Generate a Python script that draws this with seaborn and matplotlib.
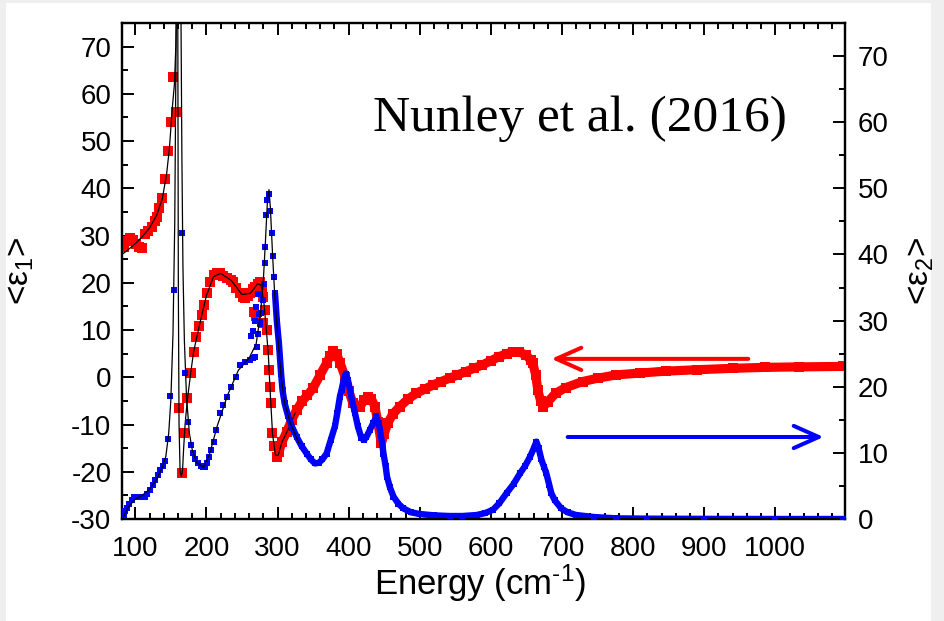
import matplotlib
matplotlib.use("Agg")
import matplotlib.pyplot as plt
from matplotlib.patches import Rectangle
from matplotlib.ticker import MultipleLocator
import pandas as pd
import seaborn as sns

# <eps1> data (left axis), energy in cm^-1
e1_energy = [84, 88, 93, 97, 101, 105, 109, 113, 118, 123, 127, 130, 134, 138, 142,
             146, 150, 153, 157, 160.8, 165.5, 168.8, 173.4, 178.6, 182, 186, 190,
             193.6, 197.3, 201.5, 205.3, 210, 214.6, 219, 224, 229, 234, 238, 242,
             247, 251, 254, 258, 261.4, 265, 268.4, 272, 275.4, 278, 280, 282.5,
             284.8, 287, 288.5, 289.5, 290.5, 292, 295, 299, 302, 306, 313, 320, 327,
             335, 342, 350, 360, 369, 374, 378, 383, 388, 395, 400, 406, 411, 416,
             422, 427.5, 432, 437, 441, 446, 450, 455, 462, 472, 483, 495, 507, 519,
             530, 542, 553, 565, 576, 588, 600, 612, 622, 631, 640, 650, 656, 659,
             663, 666, 670, 674, 680, 691, 705, 729, 750, 776, 810, 846, 890, 940,
             985, 1033, 1095]
e1_value = [27.6, 28.8, 29.4, 29.0, 28.3, 27.6, 27.3, 30.4, 31.0, 31.9, 33.0, 34.0,
            35.8, 38.0, 41.9, 48.0, 54.0, 63.6, 56.2, -6.4, -20.3, -11.7, -4.4, 1.0,
            5.4, 8.5, 10.9, 13.2, 15.3, 17.8, 20.2, 21.6, 22.1, 22.0, 21.5, 21.0,
            20.6, 20.2, 19.0, 17.8, 17.0, 16.7, 17.2, 17.8, 18.6, 19.2, 19.8, 20.2,
            19.0, 17.0, 14.2, 10.0, 5.8, 1.5, -2.0, -5.5, -11.9, -14.5, -16.8, -15.8,
            -13.8, -11.5, -9.0, -6.9, -5.0, -3.8, -2.3, 0.5, 3.0, 4.5, 5.6, 5.0, 3.0,
            0.1, -2.8, -5.5, -6.3, -6.2, -4.8, -4.1, -4.6, -6.2, -9.5, -14.0, -12.0,
            -9.7, -7.8, -6.2, -4.7, -3.4, -2.5, -1.6, -0.9, -0.2, 0.5, 1.2, 1.9, 2.6,
            3.5, 4.4, 5.0, 5.4, 5.3, 4.7, 3.6, 3.0, 0.5, -2.7, -5.0, -6.2, -5.2,
            -3.4, -2.2, -0.9, -0.2, 0.5, 0.9, 1.3, 1.6, 1.9, 2.1, 2.2, 2.3]
# scattered <eps1> points near the 280 cm^-1 mode
e1_extra_energy = [267, 270, 279]
e1_extra_value = [13.8, 13.0, 11.5]

# <eps2> data (right axis)
e2_energy = [83.6, 86, 88, 91, 95, 98, 102, 106, 110, 114, 117, 121, 125, 128, 132,
             135, 139, 142, 145.4, 149, 154, 166, 170, 174, 178, 181, 184, 188, 192,
             195, 198, 201, 203, 206, 210, 214, 219, 224, 229, 235, 241, 247, 254,
             261, 266, 268, 271, 273, 275, 277.4, 279, 281, 282.5, 283, 284, 285, 288,
             290, 292, 293, 295.5, 296.5, 299, 302, 305, 307, 310, 315, 321, 327, 334,
             341, 347, 352.6, 358, 363, 369, 375, 380.7, 384, 387.7, 390, 393, 396,
             399, 402, 405, 409, 413, 418, 422, 425, 430, 434.6, 439, 442, 444, 447,
             449, 452, 454, 458, 463, 470, 477, 488, 500, 520, 542, 560, 580, 592,
             603, 612, 622, 632, 641, 648, 655, 660, 664, 667, 671, 675, 678, 682,
             685, 690, 699, 708, 720, 745, 776, 820, 900, 1000, 1095]
e2_value = [0.6, 1.2, 1.6, 2.3, 2.9, 3.3, 3.4, 3.4, 3.4, 3.4, 3.8, 4.4, 5.1, 5.9, 6.7,
            7.4, 8.0, 8.7, 12.1, 18.6, 34.7, 43.3, 22.1, 14.7, 11.2, 10.0, 9.0, 8.4,
            8.0, 7.8, 7.8, 8.5, 9.4, 10.4, 11.7, 13.5, 16.0, 17.3, 18.5, 20.0, 21.5,
            23.3, 23.7, 24.0, 24.3, 24.5, 26.0, 28.0, 29.8, 31.1, 33.1, 35.6, 38.7,
            41.2, 46.0, 48.2, 49.2, 46.5, 43.2, 39.7, 36.6, 34.1, 30.0, 26.5, 22.0,
            19.5, 17.5, 15.5, 13.8, 12.4, 11.0, 9.9, 9.0, 8.4, 8.5, 9.0, 9.9, 12.0,
            14.0, 16.0, 18.5, 19.5, 21.0, 22.0, 21.0, 19.5, 17.8, 16.0, 14.0, 12.2,
            12.0, 12.4, 13.5, 14.5, 15.5, 14.5, 13.5, 11.5, 9.9, 8.0, 6.4, 4.8, 3.4,
            2.3, 1.6, 1.0, 0.76, 0.55, 0.45, 0.45, 0.6, 0.9, 1.4, 2.4, 3.9, 5.3, 6.9,
            8.0, 9.4, 10.6, 11.7, 10.8, 9.0, 7.8, 6.9, 5.2, 3.9, 2.8, 1.6, 1.0, 0.6,
            0.3, 0.1, 0.05, 0.02, 0.0, 0.0]
# scattered <eps2> points near the 280 cm^-1 mode
e2_extra_energy = [262, 265, 268, 270, 272, 274, 276]
e2_extra_value = [27.7, 28.5, 30.0, 32.0, 34.0, 31.0, 29.5]

# oscillator-model fits
fit1_energy = [83, 90, 100, 110, 120, 130, 138, 144, 148, 152, 155, 157, 158.5, 159.5,
               160.5, 161.5, 163, 165, 166.5, 168, 170, 173, 178, 182, 190, 200, 210,
               220, 235, 250, 262, 272, 277, 281, 284, 287, 290, 293, 297, 301, 306,
               315, 325]
fit1_value = [26.2, 27.0, 28.3, 29.8, 31.6, 34.3, 37.8, 43.0, 48.5, 57.0, 62.0, 70.0,
              82.0, 95.0, 20.0, -10.0, -20.0, -21.0, -19.5, -15.0, -10.0, -5.0, 1.0,
              5.4, 10.9, 17.3, 21.3, 22.0, 20.5, 17.5, 17.8, 19.8, 19.5, 15.5, 10.5,
              5.0, -4.0, -12.0, -16.5, -16.5, -13.8, -11.0, -7.5]
fit2_energy = [83, 90, 100, 110, 120, 130, 138, 143, 147, 150, 153, 155.5, 157.5, 159,
               161, 163, 164, 165.5, 167, 169, 172, 176, 180, 186, 196, 205, 215, 230,
               245, 260, 270, 276, 280, 283, 286, 288, 290, 293, 296, 300, 305, 310,
               318, 330]
fit2_value = [0.3, 1.8, 3.0, 3.6, 4.5, 6.0, 7.8, 9.5, 13.0, 18.0, 28.0, 45.0, 75.0,
              110.0, 130.0, 110.0, 80.0, 55.0, 38.0, 27.0, 18.5, 13.0, 10.5, 8.6, 7.8,
              10.0, 14.0, 18.8, 22.5, 24.3, 26.5, 31.0, 36.0, 42.0, 48.5, 49.8, 47.0,
              40.0, 34.0, 28.0, 21.5, 17.5, 14.5, 11.5]

x_ticks = [100, 200, 300, 400, 500, 600, 700, 800, 900, 1000]
left_ticks = [-30, -20, -10, 0, 10, 20, 30, 40, 50, 60, 70]
right_ticks = [0, 10, 20, 30, 40, 50, 60, 70]

sns.set_style("ticks")
plt.rcParams["font.family"] = ["Liberation Sans", "DejaVu Sans"]
plt.rcParams["mathtext.fontset"] = "custom"
plt.rcParams["mathtext.rm"] = "Liberation Sans"
plt.rcParams["mathtext.it"] = "Liberation Sans:italic"
plt.rcParams["axes.unicode_minus"] = False
plt.rcParams["axes.labelcolor"] = "black"
plt.rcParams["text.color"] = "black"

RED = "#ff0000"
BLUE = "#0000ff"

fig = plt.figure(figsize=(9.45, 6.21), dpi=100)
fig.patch.set_facecolor("white")
# light grey frame strips at the page edges
for rect in [(0, 1 - 3 / 621, 1, 3 / 621), (0, 0, 6 / 945, 1), (931 / 945, 0, 14 / 945, 1)]:
    fig.patches.append(Rectangle(rect[:2], rect[2], rect[3], transform=fig.transFigure,
                                 facecolor="#efefef", edgecolor="none", zorder=-5))

ax = fig.add_axes([122.5 / 945, 1 - 519 / 621, 722.5 / 945, 496 / 621])
ax2 = ax.twinx()

e1 = pd.DataFrame({"energy": e1_energy, "eps": e1_value})
e2 = pd.DataFrame({"energy": e2_energy, "eps": e2_value})

# dense part of the spectra drawn as a continuous band
dense1 = e1[e1["energy"] >= 296]
dense2 = e2[e2["energy"] >= 296]
sns.lineplot(data=dense1, x="energy", y="eps", ax=ax, color=RED, lw=6.6,
             sort=False, estimator=None, legend=False, zorder=2)
sns.scatterplot(data=e1, x="energy", y="eps", ax=ax, color=RED, marker="s", s=44,
                linewidth=0, legend=False, zorder=3)
sns.scatterplot(x=e1_extra_energy, y=e1_extra_value, ax=ax, color=RED, marker="s",
                s=44, linewidth=0, legend=False, zorder=3)
sns.lineplot(x=fit1_energy, y=fit1_value, ax=ax, color="black", lw=0.9,
             sort=False, estimator=None, legend=False, zorder=4)

sns.lineplot(data=dense2, x="energy", y="eps", ax=ax2, color=BLUE, lw=4.6,
             sort=False, estimator=None, legend=False, zorder=2)
sns.scatterplot(data=e2, x="energy", y="eps", ax=ax2, color=BLUE, marker="s", s=17,
                linewidth=0, legend=False, zorder=3)
sns.scatterplot(x=e2_extra_energy, y=e2_extra_value, ax=ax2, color=BLUE, marker="s",
                s=17, linewidth=0, legend=False, zorder=3)
sns.lineplot(x=fit2_energy, y=fit2_value, ax=ax2, color="black", lw=0.9,
             sort=False, estimator=None, legend=False, zorder=4)

# arrows pointing each curve to its axis
ax.annotate("", xy=(685, 3.9), xytext=(962, 3.9),
            arrowprops=dict(arrowstyle="->,head_length=1.8,head_width=0.8",
                            color=RED, lw=2.9, shrinkA=0, shrinkB=0))
ax2.annotate("", xy=(1068, 12.4), xytext=(708, 12.4),
             arrowprops=dict(arrowstyle="->,head_length=1.8,head_width=0.8",
                             color=BLUE, lw=2.9, shrinkA=0, shrinkB=0))

ax.set_xlim(82, 1098)
ax.set_ylim(-30, 75)
ax2.set_ylim(0, 75)
ax.set_xticks(x_ticks)
ax.set_yticks(left_ticks)
ax2.set_yticks(right_ticks)
ax.xaxis.set_minor_locator(MultipleLocator(20))
ax.yaxis.set_minor_locator(MultipleLocator(5))
ax2.yaxis.set_minor_locator(MultipleLocator(5))

for a in (ax, ax2):
    for sp in a.spines.values():
        sp.set_linewidth(1.6)
        sp.set_color("black")
ax.tick_params(axis="both", which="both", direction="in", top=True, right=False,
               width=1.4, color="black", labelsize=20, labelcolor="black")
ax.tick_params(which="major", length=8.5)
ax.tick_params(which="minor", length=4.5)
ax.tick_params(axis="x", pad=12)
ax.tick_params(axis="y", pad=8)
ax2.tick_params(axis="y", which="both", direction="in", width=1.4, color="black",
                labelsize=20, labelcolor="black", pad=9)
ax2.tick_params(which="major", length=8.5)
ax2.tick_params(which="minor", length=4.5)

ax.set_xlabel("Energy (cm$^{\\text{-}1}$)", fontsize=25, color="black")
ax.set_ylabel("<ε$_1$>", fontsize=24, color="black")
ax2.set_ylabel("<ε$_2$>", fontsize=24, color="black")
ax.xaxis.set_label_coords(0.495, -0.088)
ax.yaxis.set_label_coords(-0.12, 0.5)
ax2.yaxis.set_label_coords(1.083, 0.5)

fig.text(373 / 945, 1 - 131 / 621, "Nunley et al. (2016)", family="Liberation Serif",
         fontsize=37, ha="left", va="baseline", color="black")

fig.savefig("out.png", dpi=100, facecolor=fig.get_facecolor())
